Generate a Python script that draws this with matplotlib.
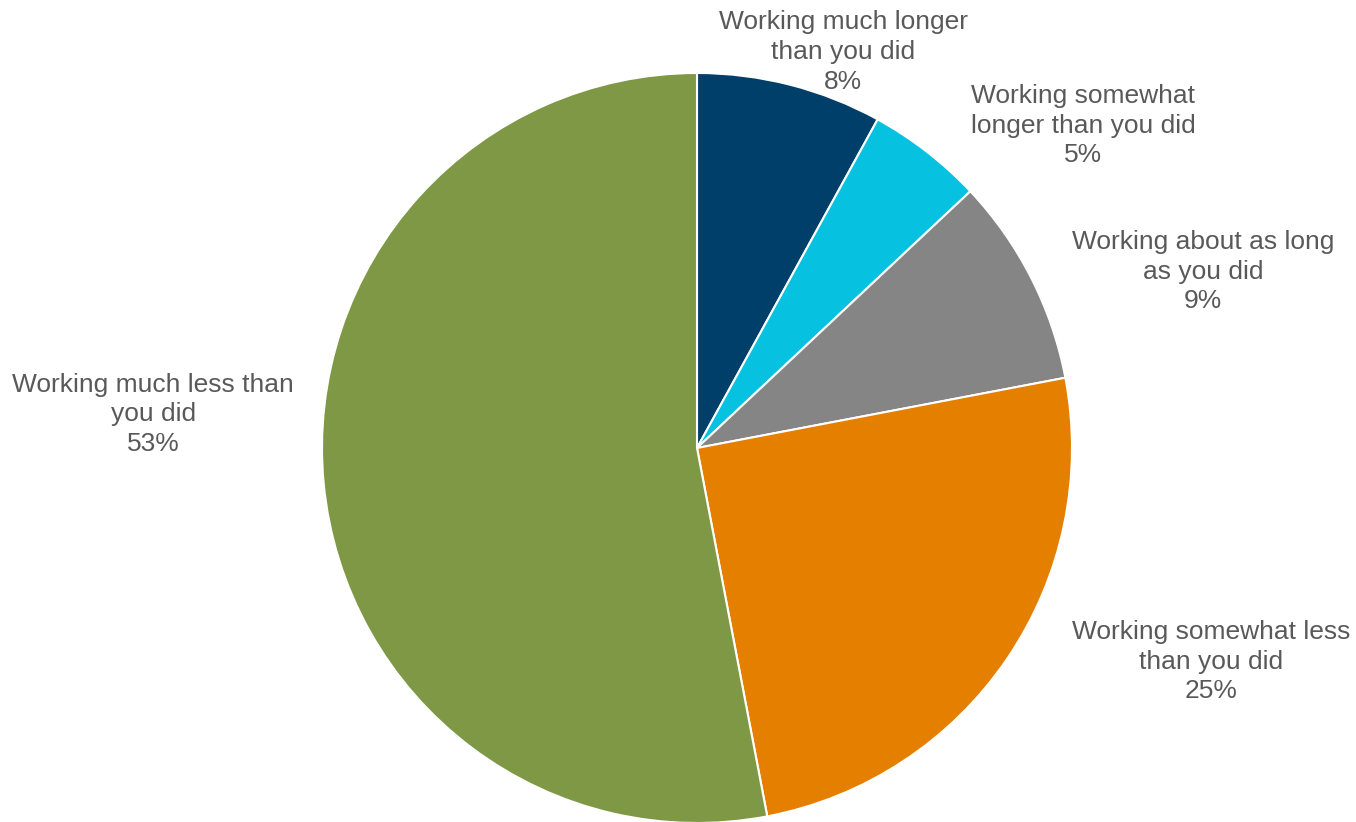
import matplotlib
matplotlib.use("Agg")
import matplotlib.pyplot as plt

## 응답 카테고리와 비율
labels = ["Working much longer\nthan you did",
          "Working somewhat\nlonger than you did",
          "Working about as long\nas you did",
          "Working somewhat less\nthan you did",
          "Working much less than\nyou did"]
shares = [8, 5, 9, 25, 53]
colors = ["#003F69", "#06C1DF", "#858585", "#E47F00", "#7E9845"]

## 라벨 위치 (반지름 단위)
label_pos = [(0.39, 1.056), (1.03, 0.86), (1.35, 0.47), (1.37, -0.57), (-1.45, 0.09)]

plt.rcParams['font.family'] = ['Liberation Sans', 'DejaVu Sans']

fig = plt.figure(figsize=(13.56, 8.22), dpi=100)
ax = fig.add_axes([0, 0, 1, 1])

ax.pie(shares, colors=colors, startangle=90, counterclock=False, radius=1.0,
       wedgeprops=dict(edgecolor='white', linewidth=1.5))

for lab, val, (x, y) in zip(labels, shares, label_pos):
    ax.text(x, y, "%s\n%d%%" % (lab, val), ha='center', va='center',
            fontsize=19, color='#595959', linespacing=1.3)

ax.set_xlim(-697 / 375, (1356 - 697) / 375)
ax.set_ylim(-374 / 375, 448 / 375)
ax.set_aspect('equal')
ax.axis('off')

fig.savefig("out.png", dpi=100)
